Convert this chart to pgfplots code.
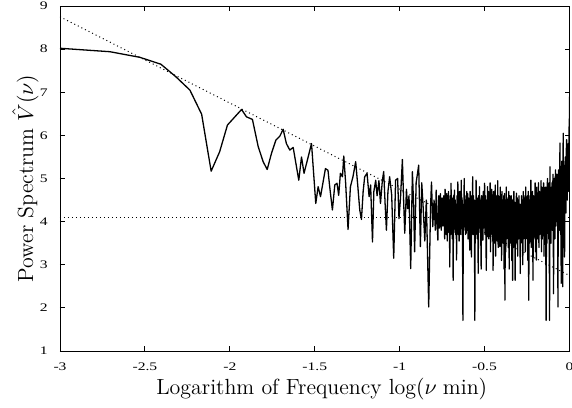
\documentclass[border=0pt]{standalone}
\usepackage{pgfplots}
\pgfplotsset{compat=1.18}
\usepackage{fontspec}
\newfontfamily\tickfont[FakeStretch=1.35]{Liberation Serif}
\begin{document}
\begin{tikzpicture}
\begin{axis}[
  name=ax,
  scale only axis,
  width=254.75bp, height=172.5bp,
  xmin=-3, xmax=0, ymin=1, ymax=9,
  xtick={-3,-2.5,-2,-1.5,-1,-0.5,0},
  xticklabels={-3,-2.5,-2,-1.5,-1,-0.5,0},
  ytick={1,2,3,4,5,6,7,8,9},
  yticklabels={1,2,3,4,5,6,7,8,9},
  tick align=inside,
  xtick pos=both, ytick pos=both,
  major tick length=2.5bp,
  tick style={line width=0.5bp, black},
  axis line style={line width=0.5bp},
  xticklabel style={font=\tickfont\fontsize{5.8}{6}\selectfont, anchor=base, inner sep=0pt, yshift=-9.5bp},
  yticklabel style={font=\tickfont\fontsize{5.8}{6}\selectfont, anchor=east, inner sep=0pt, xshift=-6bp},
  xlabel={Logarithm of Frequency $\log(\nu\;\mathrm{min})$},
  ylabel={Power Spectrum $\hat{V}(\nu)$},
  every axis x label/.style={at={(axis description cs:0.5137,-0.1275)}, anchor=base, font=\fontsize{11}{13}\selectfont},
  every axis y label/.style={at={(axis description cs:-0.053,0.5)}, rotate=90, anchor=base, font=\fontsize{11}{13}\selectfont},
]
% dotted reference lines
\addplot[line width=0.5bp, dash pattern=on 0.5bp off 1.5bp] coordinates {(-3,4.1) (0,4.1)};
\addplot[line width=0.5bp, dash pattern=on 0.5bp off 1.5bp] coordinates {(-3,8.75) (0,2.75)};
% power spectrum
\addplot[line width=0.65bp, line join=round, black] coordinates {
(-3.000,8.02) (-2.706,7.94) (-2.530,7.81) (-2.406,7.65) (-2.318,7.36) (-2.235,7.05)
(-2.166,6.49) (-2.110,5.17) (-2.060,5.62) (-2.014,6.24) (-1.931,6.60) (-1.902,6.43)
(-1.867,6.37) (-1.833,5.74) (-1.804,5.39) (-1.780,5.21) (-1.755,5.58) (-1.729,5.89)
(-1.706,5.98) (-1.686,6.14) (-1.667,5.81) (-1.647,5.66) (-1.627,5.72) (-1.594,4.96)
(-1.578,5.50) (-1.563,5.12) (-1.519,5.81) (-1.494,4.42) (-1.480,4.81) (-1.466,4.58)
(-1.437,5.23) (-1.422,5.19) (-1.412,4.81) (-1.396,4.27) (-1.382,4.85) (-1.369,4.89)
(-1.359,4.61) (-1.349,5.12) (-1.337,5.04) (-1.329,5.52) (-1.318,4.89) (-1.304,3.82)
(-1.290,4.81) (-1.275,5.04) (-1.259,5.39) (-1.247,4.85) (-1.235,4.27) (-1.225,4.05)
(-1.215,4.70) (-1.206,5.04) (-1.192,5.12) (-1.180,4.58) (-1.171,4.85) (-1.160,3.53)
(-1.152,4.70) (-1.141,4.96) (-1.133,4.60) (-1.122,4.95) (-1.113,4.42) (-1.102,4.95)
(-1.094,5.16) (-1.085,4.35) (-1.078,3.80) (-1.069,4.70) (-1.059,5.04) (-1.047,4.62)
(-1.035,3.15) (-1.024,4.96) (-1.012,5.00) (-1.004,4.07) (-0.995,4.55) (-0.984,5.44)
(-0.976,4.40) (-0.970,3.73) (-0.960,4.75) (-0.953,4.30) (-0.945,4.60) (-0.935,2.91)
(-0.925,5.16) (-0.918,4.40) (-0.912,3.30) (-0.903,4.90) (-0.888,5.31) (-0.878,3.42)
(-0.870,4.90) (-0.862,4.35) (-0.852,3.55) (-0.843,4.50) (-0.829,2.02) (-0.818,4.35)
(-0.8125,4.92) (-0.8050,3.88) (-0.7975,4.50) (-0.7900,3.80) (-0.7850,4.73)
(-0.7800,4.00) (-0.7750,3.57) (-0.7700,4.60) (-0.7650,3.85) (-0.7600,4.65)
(-0.7550,3.80) (-0.7500,4.55) (-0.7450,3.90) (-0.7400,4.60) (-0.7350,3.60)
(-0.7325,4.75) (-0.7300,3.80) (-0.7275,4.58) (-0.7250,3.70)
(-0.7225,4.65) (-0.7200,3.55) (-0.7175,4.60) (-0.7150,3.75) (-0.7125,4.70)
(-0.7100,3.80) (-0.7075,4.50) (-0.7050,2.95) (-0.7025,4.60) (-0.7000,3.70)
(-0.6975,4.89) (-0.6950,3.80) (-0.6925,4.55) (-0.6900,3.60) (-0.6875,4.50)
(-0.6850,2.64) (-0.6825,4.60) (-0.6800,3.75) (-0.6775,4.73) (-0.6750,3.90)
(-0.6725,4.50) (-0.6700,3.70) (-0.6675,4.40) (-0.6650,3.11) (-0.6625,4.60)
(-0.6600,3.80) (-0.6575,4.92) (-0.6550,3.70) (-0.6525,4.60) (-0.6500,3.55)
(-0.6475,4.70) (-0.6450,3.80) (-0.6425,4.50) (-0.6400,3.70) (-0.6375,4.96)
(-0.6350,3.85) (-0.6325,4.55) (-0.6300,3.60) (-0.6275,1.71) (-0.6250,4.40)
(-0.6225,3.80) (-0.6200,5.00) (-0.6175,3.90) (-0.6150,4.60) (-0.6125,3.70)
(-0.6100,4.50) (-0.6075,3.73) (-0.6050,4.70) (-0.6025,3.80) (-0.6000,4.65)
(-0.5975,3.60) (-0.5950,4.55) (-0.5925,3.85) (-0.5900,4.40) (-0.5875,3.34)
(-0.5850,4.70) (-0.5825,3.75) (-0.5800,4.50) (-0.5775,3.18) (-0.5750,4.60)
(-0.5725,3.80) (-0.5700,5.04) (-0.5675,3.70) (-0.5650,4.60) (-0.5625,3.85)
(-0.5600,4.50) (-0.5575,1.71) (-0.5550,4.40) (-0.5525,3.70) (-0.5500,4.96)
(-0.5475,3.80) (-0.5450,4.55) (-0.5425,3.60) (-0.5400,4.40) (-0.5375,2.80)
(-0.5350,4.60) (-0.5325,3.75) (-0.5300,4.81) (-0.5275,3.85) (-0.5250,4.50)
(-0.5225,3.70) (-0.5200,2.90) (-0.5175,4.60) (-0.5150,3.80) (-0.5125,4.55)
(-0.5100,3.57) (-0.5075,4.70) (-0.5050,3.85) (-0.5025,4.40) (-0.5000,4.89)
(-0.4975,3.70) (-0.4950,4.60) (-0.4925,3.80) (-0.4900,2.87) (-0.4875,4.50)
(-0.4850,3.75) (-0.4825,4.81)
(-0.4800,3.65) (-0.4775,4.70) (-0.4750,3.60) (-0.4725,4.50) (-0.4700,3.85)
(-0.4675,4.90) (-0.4650,3.30) (-0.4625,4.60) (-0.4600,3.90) (-0.4575,4.75)
(-0.4550,3.70) (-0.4525,4.50) (-0.4500,2.87) (-0.4475,4.70) (-0.4450,3.50)
(-0.4425,4.55) (-0.4400,3.80) (-0.4375,4.85) (-0.4350,3.20) (-0.4325,4.60)
(-0.4300,3.70) (-0.4275,4.40) (-0.4250,3.55) (-0.4225,4.95) (-0.4200,3.40)
(-0.4175,4.60) (-0.4150,3.75) (-0.4125,4.50) (-0.4100,3.42) (-0.4075,4.80)
(-0.4050,3.60) (-0.4025,4.55) (-0.4000,3.10) (-0.3975,4.70) (-0.3950,3.80)
(-0.3925,4.50) (-0.3900,3.50) (-0.3875,4.60) (-0.3850,2.90) (-0.3825,4.65)
(-0.3800,2.18) (-0.3775,4.50) (-0.3750,3.30) (-0.3725,4.80) (-0.3700,3.60)
(-0.3675,4.55) (-0.3650,3.70) (-0.3625,4.40) (-0.3600,3.40) (-0.3575,4.70)
(-0.3550,2.90) (-0.3525,4.60) (-0.3500,3.50) (-0.3475,4.55) (-0.3450,3.70)
(-0.3425,4.60) (-0.3400,3.10) (-0.3375,4.50) (-0.3350,2.64) (-0.3325,4.50)
(-0.3300,3.40) (-0.3275,4.70) (-0.3250,3.60) (-0.3225,4.45) (-0.3200,2.64)
(-0.3175,4.40) (-0.3150,3.70) (-0.3125,4.66) (-0.3100,3.50) (-0.3075,4.55)
(-0.3050,3.20) (-0.3025,4.50) (-0.3000,3.60) (-0.2975,4.60) (-0.2950,3.80)
(-0.2925,4.40) (-0.2900,2.80) (-0.2875,4.40) (-0.2850,3.50) (-0.2825,4.60)
(-0.2800,3.70) (-0.2775,4.50) (-0.2750,3.00) (-0.2725,4.70) (-0.2700,3.60)
(-0.2675,4.50) (-0.2650,3.80) (-0.2625,4.60) (-0.2600,3.30) (-0.2575,4.80)
(-0.2550,3.70) (-0.2525,4.55) (-0.2500,3.60) (-0.2475,4.60) (-0.2450,3.10)
(-0.2425,4.70) (-0.2400,2.18) (-0.2375,4.50) (-0.2350,3.50) (-0.2325,4.60)
(-0.2300,3.70) (-0.2275,4.96) (-0.2250,3.40) (-0.2225,4.55) (-0.2200,3.80)
(-0.2175,4.70) (-0.2150,2.64) (-0.2125,4.60) (-0.2100,3.60) (-0.2075,4.50)
(-0.2050,3.80) (-0.2025,4.90) (-0.2000,3.30) (-0.1975,4.70) (-0.1950,3.11)
(-0.1925,4.80) (-0.1900,3.60) (-0.1875,4.65) (-0.1850,3.85) (-0.1825,4.90)
(-0.1800,3.40) (-0.1775,4.70) (-0.1750,3.70) (-0.1725,4.60) (-0.1700,3.80)
(-0.1675,4.95) (-0.1650,3.30) (-0.1625,4.80) (-0.1600,3.60) (-0.1575,4.70)
(-0.1550,3.80) (-0.1525,4.90) (-0.1500,3.20) (-0.1475,4.70) (-0.1450,3.70)
(-0.1425,4.80) (-0.1400,3.90) (-0.1375,1.71) (-0.1350,4.80) (-0.1325,3.50)
(-0.1300,5.00) (-0.1275,3.80) (-0.1250,4.70) (-0.1225,3.60) (-0.1200,4.90)
(-0.1175,1.71) (-0.1150,5.27) (-0.1125,3.70)
(-0.1090,3.50) (-0.1070,4.80) (-0.1050,4.00) (-0.1030,4.90) (-0.1010,3.80)
(-0.0990,4.70) (-0.0970,5.10) (-0.0955,3.90) (-0.0940,2.33) (-0.0920,4.70)
(-0.0900,5.00) (-0.0880,4.00) (-0.0860,3.60) (-0.0840,4.90) (-0.0820,5.20)
(-0.0800,3.90) (-0.0780,4.80) (-0.0760,4.10) (-0.0740,5.10) (-0.0720,4.00)
(-0.0700,4.90) (-0.0680,2.02) (-0.0660,4.70) (-0.0640,5.20) (-0.0620,4.10)
(-0.0600,3.80) (-0.0580,5.00) (-0.0560,5.82) (-0.0540,4.20) (-0.0520,3.70)
(-0.0500,5.00) (-0.0490,2.57) (-0.0470,4.90) (-0.0450,5.40) (-0.0430,4.30)
(-0.0410,3.90) (-0.0400,2.49) (-0.0385,5.20) (-0.0370,6.05) (-0.0350,4.40)
(-0.0330,3.40) (-0.0310,5.30) (-0.0290,3.18) (-0.0270,4.90) (-0.0250,5.50)
(-0.0230,4.40) (-0.0210,4.20) (-0.0190,5.60) (-0.0170,5.90) (-0.0150,4.60)
(-0.0130,4.50) (-0.0110,5.80) (-0.0090,5.70) (-0.0070,4.70) (-0.0050,4.80)
(-0.0030,6.20) (-0.0015,5.60) (0.0000,6.90)
};
\end{axis}
\pgfresetboundingbox
\path[use as bounding box] ([shift={(-30bp,-28.5bp)}]ax.south west) rectangle ([shift={(1.25bp,3bp)}]ax.north east);
\end{tikzpicture}
\end{document}
